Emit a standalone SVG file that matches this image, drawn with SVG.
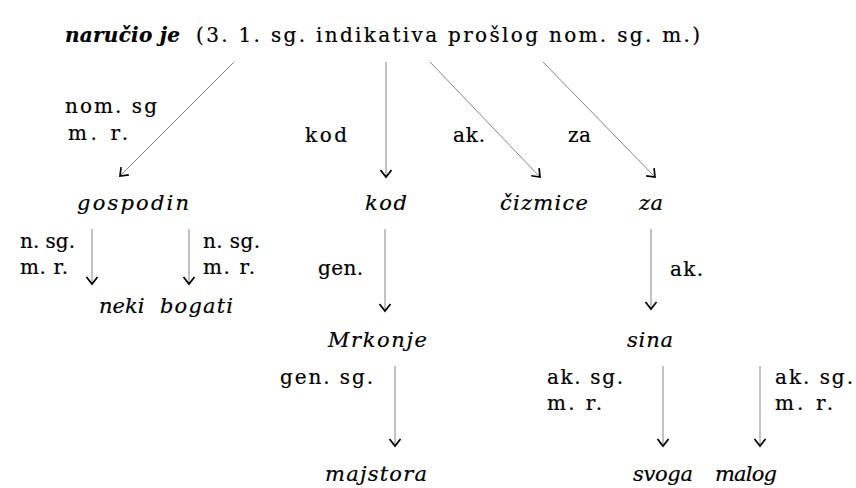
<svg xmlns="http://www.w3.org/2000/svg" width="856" height="488" viewBox="0 0 856 488">
<defs>
<style>
text{font-family:"DejaVu Serif","Liberation Serif",serif;fill:#000;stroke:#000;stroke-width:0.2;}
.lbl{font-size:20px;}
.node{font-size:21px;font-style:italic;}
.title{font-size:20px;}
.edge{stroke:#777;stroke-width:0.9;fill:none;marker-end:url(#arr);}
</style>
<marker id="arr" markerUnits="userSpaceOnUse" viewBox="-9 -7 11 14" refX="0" refY="0" markerWidth="11" markerHeight="14" orient="auto">
<path d="M-7,-5.5 L0,0 L-7,5.5" fill="none" stroke="#000" stroke-width="1.7"/>
</marker>
</defs>
<rect width="856" height="488" fill="#fff"/>
<g id="connectors">
<line class="edge" x1="234" y1="62" x2="120" y2="176"/>
<line class="edge" x1="386" y1="62" x2="386" y2="177"/>
<line class="edge" x1="430" y1="62" x2="540" y2="177"/>
<line class="edge" x1="543" y1="62" x2="655" y2="177"/>
<line class="edge" x1="92" y1="229" x2="92" y2="284"/>
<line class="edge" x1="189" y1="229" x2="189" y2="284"/>
<line class="edge" x1="385" y1="229" x2="385" y2="311"/>
<line class="edge" x1="651" y1="229" x2="651" y2="309"/>
<line class="edge" x1="395" y1="366" x2="395" y2="446"/>
<line class="edge" x1="663" y1="366" x2="663" y2="446"/>
<line class="edge" x1="760" y1="366" x2="760" y2="446"/>
</g>
<g id="edge-labels" class="lbl">
<text x="65" y="113" textLength="92" lengthAdjust="spacing">nom. sg</text>
<text x="68" y="140" textLength="60" lengthAdjust="spacing">m. r.</text>
<text x="305" y="142" textLength="42" lengthAdjust="spacing">kod</text>
<text x="453" y="142" textLength="32" lengthAdjust="spacing">ak.</text>
<text x="568" y="142" textLength="23" lengthAdjust="spacing">za</text>
<text x="20" y="248" textLength="55" lengthAdjust="spacing">n. sg.</text>
<text x="20" y="274" textLength="48" lengthAdjust="spacing">m. r.</text>
<text x="203" y="248" textLength="57" lengthAdjust="spacing">n. sg.</text>
<text x="203" y="274" textLength="52" lengthAdjust="spacing">m. r.</text>
<text x="318" y="275" textLength="45" lengthAdjust="spacing">gen.</text>
<text x="670" y="276" textLength="33" lengthAdjust="spacing">ak.</text>
<text x="280" y="384" textLength="93" lengthAdjust="spacing">gen. sg.</text>
<text x="547" y="384" textLength="76" lengthAdjust="spacing">ak. sg.</text>
<text x="547" y="410" textLength="55" lengthAdjust="spacing">m. r.</text>
<text x="775" y="384" textLength="78" lengthAdjust="spacing">ak. sg.</text>
<text x="775" y="410" textLength="58" lengthAdjust="spacing">m. r.</text>
</g>
<g id="root" class="title">
<text x="65" y="42" font-weight="bold" font-style="italic" textLength="115" lengthAdjust="spacing">naručio je</text>
<text x="196" y="42" textLength="504" lengthAdjust="spacing">(3. 1. sg. indikativa prošlog nom. sg. m.)</text>
</g>
<g id="gospodin" class="node"><text x="77" y="210" textLength="112" lengthAdjust="spacing">gospodin</text></g>
<g id="kod" class="node"><text x="365" y="210" textLength="42" lengthAdjust="spacing">kod</text></g>
<g id="cizmice" class="node"><text x="500" y="210" textLength="88" lengthAdjust="spacing">čizmice</text></g>
<g id="za" class="node"><text x="639" y="210" textLength="24" lengthAdjust="spacing">za</text></g>
<g id="neki" class="node"><text x="99" y="313">neki</text></g>
<g id="bogati" class="node"><text x="160" y="313" textLength="73" lengthAdjust="spacing">bogati</text></g>
<g id="mrkonje" class="node"><text x="328" y="347" textLength="99" lengthAdjust="spacing">Mrkonje</text></g>
<g id="sina" class="node"><text x="627" y="347" textLength="46" lengthAdjust="spacing">sina</text></g>
<g id="majstora" class="node"><text x="325" y="481" textLength="102" lengthAdjust="spacing">majstora</text></g>
<g id="svoga" class="node"><text x="633" y="481" textLength="60" lengthAdjust="spacing">svoga</text></g>
<g id="malog" class="node"><text x="715" y="481" textLength="62" lengthAdjust="spacing">malog</text></g>
</svg>
